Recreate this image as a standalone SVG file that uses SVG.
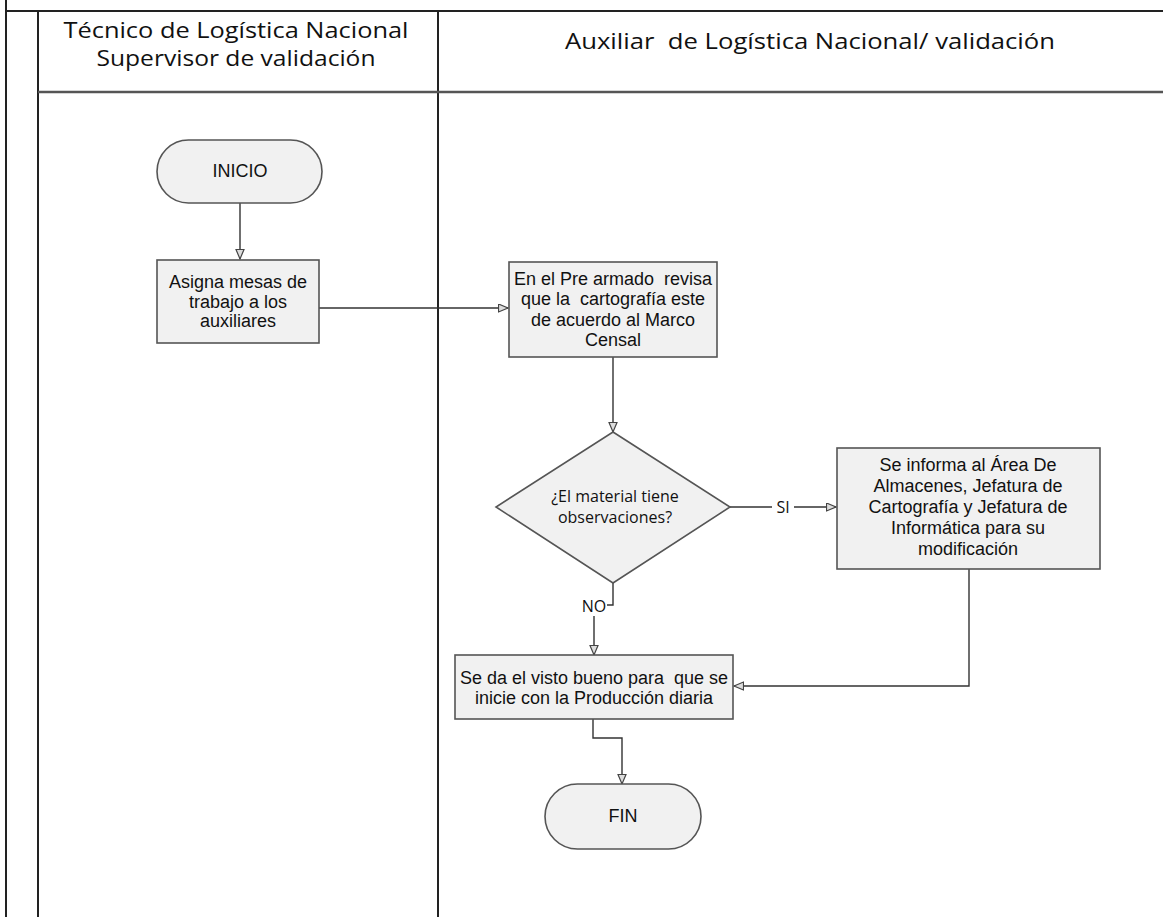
<svg xmlns="http://www.w3.org/2000/svg" width="1163" height="917" viewBox="0 0 1163 917">
<style>
.lane{stroke:#222;stroke-width:2;fill:none}
.hdr{stroke:#555;stroke-width:2.5;fill:none}
.node{fill:#f1f1f1;stroke:#555;stroke-width:1.6}
.t{font-family:"Liberation Sans",Arial,sans-serif;font-size:18px;fill:#111;text-anchor:middle}
.h{font-family:"Open Sans","Noto Sans",sans-serif;font-size:21px;fill:#111;text-anchor:middle}
.d{font-family:"Open Sans","Noto Sans",sans-serif;font-size:16px;fill:#111;text-anchor:middle}
.c{stroke:#333;stroke-width:1.4;fill:none}
</style>
<defs>
<marker id="ah" markerWidth="12" markerHeight="10" refX="10" refY="4.5" orient="auto" markerUnits="userSpaceOnUse">
<path d="M0.5,0.5 L10,4.5 L0.5,8.5 Z" fill="#ddd" stroke="#444" stroke-width="1.2"/>
</marker>
</defs>
<rect width="1163" height="917" fill="#fff"/>
<g id="pool">
<line class="lane" x1="6" y1="0" x2="6" y2="917"/>
<line class="lane" x1="38" y1="11" x2="38" y2="917"/>
<line class="lane" x1="438" y1="11" x2="438" y2="917"/>
<line class="lane" x1="6" y1="11" x2="1163" y2="11"/>
<line class="hdr" x1="38" y1="92" x2="1163" y2="92"/>
<text class="h" x="236" y="38" textLength="345" lengthAdjust="spacingAndGlyphs">Técnico de Logística Nacional</text>
<text class="h" x="236" y="66" textLength="279" lengthAdjust="spacingAndGlyphs">Supervisor de validación</text>
<text class="h" x="810" y="49" textLength="490" lengthAdjust="spacingAndGlyphs" xml:space="preserve">Auxiliar  de Logística Nacional/ validación</text>
</g>
<g id="connectors">
<path class="c" d="M240,203 V259" marker-end="url(#ah)"/>
<path class="c" d="M319,308 H508" marker-end="url(#ah)"/>
<path class="c" d="M613,357 V432" marker-end="url(#ah)"/>
<path class="c" d="M730,507 H836" marker-end="url(#ah)"/>
<path class="c" d="M613,583 V605 H594 V655" marker-end="url(#ah)"/>
<path class="c" d="M969,569 V686 H734" marker-end="url(#ah)"/>
<path class="c" d="M593,719 V738 H622 V784" marker-end="url(#ah)"/>
<rect x="772" y="497" width="22" height="20" fill="#fff"/>
<text class="d" x="783" y="513">SI</text>
<rect x="580" y="596" width="27" height="20" fill="#fff"/>
<text class="d" x="594" y="612">NO</text>
</g>
<g id="inicio">
<rect class="node" x="157" y="140" width="165" height="63" rx="31.5"/>
<text class="t" x="240" y="177">INICIO</text>
</g>
<g id="asigna">
<rect class="node" x="157" y="260" width="162" height="83"/>
<text class="t" x="238" y="288">Asigna mesas de</text>
<text class="t" x="238" y="308">trabajo a los</text>
<text class="t" x="238" y="327">auxiliares</text>
</g>
<g id="prearmado">
<rect class="node" x="509" y="262" width="208" height="95"/>
<text class="t" x="613" y="285" xml:space="preserve">En el Pre armado  revisa</text>
<text class="t" x="613" y="305" xml:space="preserve">que la  cartografía este</text>
<text class="t" x="613" y="326">de acuerdo al Marco</text>
<text class="t" x="613" y="346">Censal</text>
</g>
<g id="decision">
<polygon class="node" points="613,432 730,507 613,583 496,507"/>
<text class="d" x="615" y="502">¿El material tiene</text>
<text class="d" x="615" y="523">observaciones?</text>
</g>
<g id="informa">
<rect class="node" x="837" y="448" width="263" height="121"/>
<text class="t" x="968" y="471">Se informa al Área De</text>
<text class="t" x="968" y="492">Almacenes, Jefatura de</text>
<text class="t" x="968" y="513">Cartografía y Jefatura de</text>
<text class="t" x="968" y="534">Informática para su</text>
<text class="t" x="968" y="555">modificación</text>
</g>
<g id="vistobueno">
<rect class="node" x="455" y="655" width="278" height="64"/>
<text class="t" x="594" y="684" xml:space="preserve">Se da el visto bueno para  que se</text>
<text class="t" x="594" y="704">inicie con la Producción diaria</text>
</g>
<g id="fin">
<rect class="node" x="545" y="784" width="156" height="65" rx="32.5"/>
<text class="t" x="623" y="822">FIN</text>
</g>
</svg>
